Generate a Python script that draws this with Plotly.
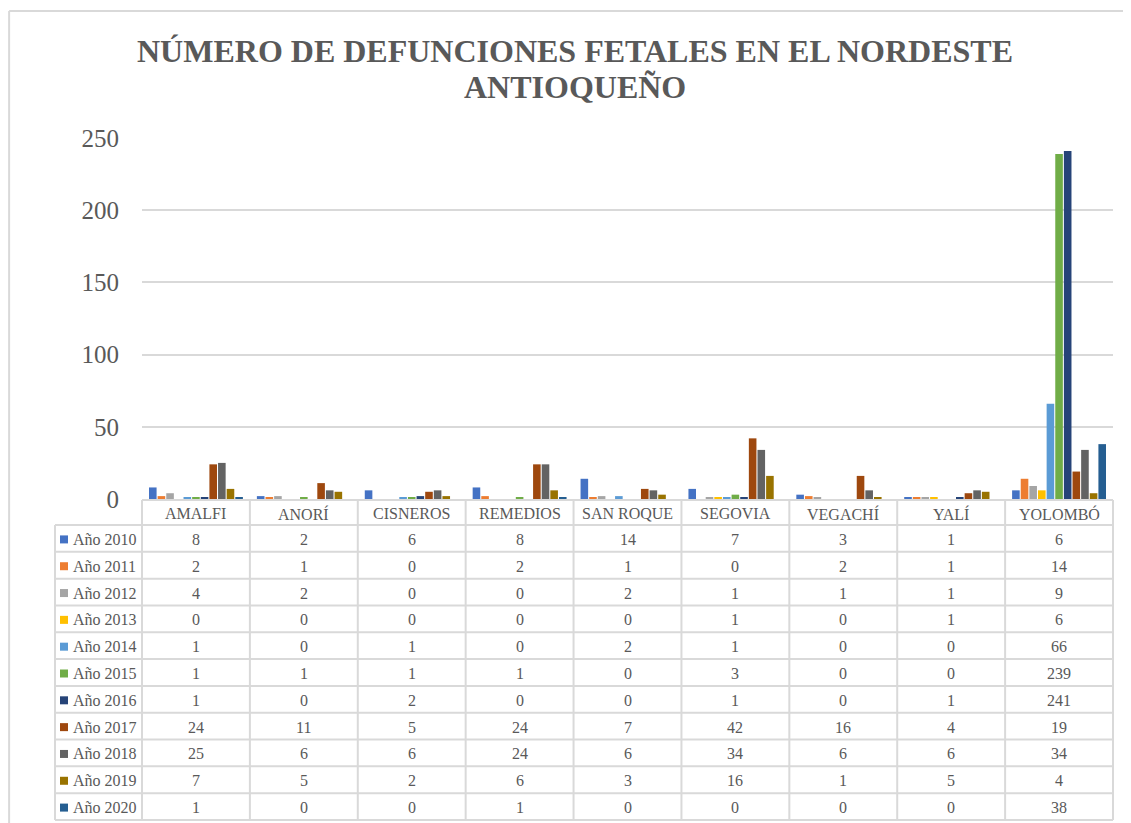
import plotly.graph_objects as go

categories = ["AMALFI", "ANORÍ", "CISNEROS", "REMEDIOS", "SAN ROQUE", "SEGOVIA", "VEGACHÍ", "YALÍ", "YOLOMBÓ"]
series_names = ["Año 2010", "Año 2011", "Año 2012", "Año 2013", "Año 2014", "Año 2015",
                "Año 2016", "Año 2017", "Año 2018", "Año 2019", "Año 2020"]
y2010 = [8, 2, 6, 8, 14, 7, 3, 1, 6]
y2011 = [2, 1, 0, 2, 1, 0, 2, 1, 14]
y2012 = [4, 2, 0, 0, 2, 1, 1, 1, 9]
y2013 = [0, 0, 0, 0, 0, 1, 0, 1, 6]
y2014 = [1, 0, 1, 0, 2, 1, 0, 0, 66]
y2015 = [1, 1, 1, 1, 0, 3, 0, 0, 239]
y2016 = [1, 0, 2, 0, 0, 1, 0, 1, 241]
y2017 = [24, 11, 5, 24, 7, 42, 16, 4, 19]
y2018 = [25, 6, 6, 24, 6, 34, 6, 6, 34]
y2019 = [7, 5, 2, 6, 3, 16, 1, 5, 4]
y2020 = [1, 0, 0, 1, 0, 0, 0, 0, 38]
series_values = [y2010, y2011, y2012, y2013, y2014, y2015, y2016, y2017, y2018, y2019, y2020]
colors = ["#4472C4", "#ED7D31", "#A5A5A5", "#FFC000", "#5B9BD5", "#70AD47",
          "#264478", "#9E480E", "#636363", "#997300", "#255E91"]
y_ticks = [0, 50, 100, 150, 200, 250]
title_lines = ["NÚMERO DE DEFUNCIONES FETALES EN EL NORDESTE", "ANTIOQUEÑO"]

# the page body has an 8px margin, so the figure is offset by 8px
OFF = 8
W, H = 1131 - OFF, 823 - OFF
FONT = "Liberation Serif, Times New Roman, serif"
TXT = "#595959"
GRID = "#D9D9D9"


def px(x):
    return (x - OFF) / W


def py(y):
    return 1 - (y - OFF) / H


# layout geometry (screen pixels)
plot_left, plot_right = 142, 1113
plot_top, plot_bottom = 138, 499
legend_left = 55
header_top, header_bottom = 500, 525
row_h = (820 - header_bottom) / len(series_names)
table_bottom = header_bottom + row_h * len(series_names)

fig = go.Figure()
for name, vals, col in zip(series_names, series_values, colors):
    fig.add_trace(go.Bar(x=categories, y=vals, name=name, marker=dict(color=col, line=dict(width=0))))

shapes = []
annotations = []

# chart border (top and left edges visible)
border = dict(color=GRID, width=2)
shapes.append(dict(type="line", xref="paper", yref="paper", x0=px(8) + 0.001, x1=1.0,
                   y0=py(11), y1=py(11), line=border, layer="below"))
shapes.append(dict(type="line", xref="paper", yref="paper", x0=px(8) + 0.001, x1=px(8) + 0.001,
                   y0=0.0, y1=py(11), line=border, layer="below"))

# table lines
line_style = dict(color=GRID, width=2)
shapes.append(dict(type="line", xref="paper", yref="paper", x0=px(plot_left), x1=px(plot_right),
                   y0=py(header_top), y1=py(header_top), line=line_style))
for i in range(len(series_names) + 1):
    yy = header_bottom + i * row_h
    shapes.append(dict(type="line", xref="paper", yref="paper", x0=px(legend_left), x1=px(plot_right),
                       y0=py(yy), y1=py(yy), line=line_style))
shapes.append(dict(type="line", xref="paper", yref="paper", x0=px(legend_left), x1=px(legend_left),
                   y0=py(header_bottom), y1=py(table_bottom), line=line_style))
col_w = (plot_right - plot_left) / len(categories)
for j in range(len(categories) + 1):
    xx = plot_left + j * col_w
    shapes.append(dict(type="line", xref="paper", yref="paper", x0=px(xx), x1=px(xx),
                       y0=py(header_top), y1=py(table_bottom), line=line_style))

# header labels
for c in categories:
    annotations.append(dict(x=c, xref="x", y=py((header_top + header_bottom) / 2 + 1), yref="paper",
                            text=c, showarrow=False, font=dict(family=FONT, size=16, color=TXT),
                            xanchor="center", yanchor="middle"))

# rows
for i, (name, vals, col) in enumerate(zip(series_names, series_values, colors)):
    yc = header_bottom + (i + 0.5) * row_h + 1
    shapes.append(dict(type="rect", xref="paper", yref="paper", x0=px(60), x1=px(68),
                       y0=py(yc + 4), y1=py(yc - 4), fillcolor=col, line=dict(width=0)))
    annotations.append(dict(x=px(71), xref="paper", y=py(yc), yref="paper", text=name, showarrow=False,
                            font=dict(family=FONT, size=16, color=TXT), xanchor="left", yanchor="middle"))
    for c, v in zip(categories, vals):
        annotations.append(dict(x=c, xref="x", y=py(yc), yref="paper", text=str(v), showarrow=False,
                                font=dict(family=FONT, size=16, color=TXT), xanchor="center", yanchor="middle"))

# title
annotations.append(dict(x=px(575), xref="paper", y=py(51), yref="paper", text="<b>" + title_lines[0] + "</b>",
                        showarrow=False, font=dict(family=FONT, size=32, color=TXT),
                        xanchor="center", yanchor="middle"))
annotations.append(dict(x=px(575), xref="paper", y=py(87), yref="paper", text="<b>" + title_lines[1] + "</b>",
                        showarrow=False, font=dict(family=FONT, size=32, color=TXT),
                        xanchor="center", yanchor="middle"))

fig.update_layout(
    width=W, height=H,
    margin=dict(l=0, r=0, t=0, b=0, pad=0, autoexpand=False),
    paper_bgcolor="white", plot_bgcolor="white",
    barmode="group", bargap=0.12, bargroupgap=0.12,
    showlegend=False,
    xaxis=dict(domain=[px(plot_left), px(plot_right)], showticklabels=False, showgrid=False,
               zeroline=False, showline=False, ticks="", automargin=False),
    yaxis=dict(domain=[py(plot_bottom), py(plot_top)], range=[0, 250], tickvals=y_ticks,
               showgrid=True, gridcolor=GRID, gridwidth=1.5, zeroline=False, showline=False,
               tickfont=dict(family=FONT, size=25, color=TXT), ticklabelstandoff=22, automargin=False),
    shapes=shapes,
    annotations=annotations,
)

fig.write_html("out.html", config={"displayModeBar": False})
